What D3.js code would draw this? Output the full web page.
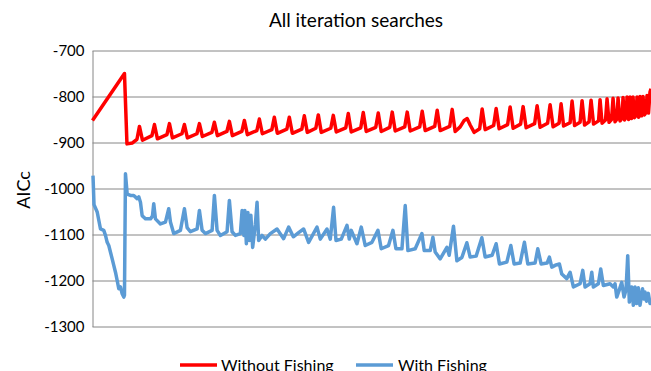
<!DOCTYPE html>
<html>
<head>
<meta charset="utf-8">
<script src="https://cdn.jsdelivr.net/npm/d3@7"></script>
<style>
  body { margin: 0; background: #fff; }
  svg { display: block; }
</style>
</head>
<body>
<div id="chart"></div>
<script>
// [iteration, AICc]
const withoutFishing = [
  [0,-852],[32,-750],[34.5,-903],[40,-901],
  [44.5,-893],[47,-865],[50,-895],
  [59.5,-885],[62,-861],[65,-892],
  [74.5,-883],[77,-859],[80,-890],
  [89.5,-881],[92,-861],[95,-890],
  [104.5,-881],[107,-859],[110,-887],
  [119.5,-878],[122,-856],[125,-885],
  [134.5,-876],[137,-854],[140,-885],
  [149.5,-876],[152,-852],[155,-883],
  [164.5,-874],[167,-849],[170,-881],
  [179.5,-872],[182,-845],[185,-880],
  [194.5,-871],[197,-845],[200,-880],
  [209.5,-871],[212,-842],[215,-878],
  [223.5,-869],[226,-840],[229,-878],
  [238.5,-869],[241,-841],[244,-877],
  [253.5,-868],[256,-837],[259,-877],
  [268.5,-868],[271,-835],[274,-876],
  [283.5,-867],[286,-836],[289,-876],
  [297.5,-867],[300,-834],[303,-875],
  [312.5,-866],[315,-834],[318,-875],
  [327.5,-866],[330,-832],[333,-874],
  [342.5,-865],[345,-830],[348,-874],
  [357.5,-865],[360,-828],[363,-876],
  [368,-866],[372,-852],[375,-848],[378,-862],[382,-878],
  [387.5,-870],[390,-827],[393,-872],
  [401.5,-863],[404,-826],[407,-870],
  [415.5,-861],[418,-823],[421,-869],
  [428.5,-860],[431,-822],[434,-868],
  [442.5,-859],[445,-820],[448,-867],
  [455.5,-858],[458,-818],[461,-866],
  [467,-858],[469,-816],[471.5,-864],
  [478,-857],[480,-810],[482.5,-863],
  [488,-856],[490,-809],[492.5,-862],
  [497,-855],[499,-808],[501.5,-860],
  [506.5,-853],[508,-807],[510,-858],
  [513.5,-851],[515,-805],[517,-856],
  [519.5,-850],[521,-804],[523,-855],
  [525,-849],[526,-803],[528,-853],
  [530,-847],[531,-802],[532.5,-851],
  [534,-845],[535,-801],[536.5,-850],
  [537.5,-845],[538,-801],[539.5,-848],
  [540.5,-843],[541,-801],[542.5,-846],
  [544,-841],[545,-801],[546.5,-845],
  [547.5,-840],[548,-800],[549.5,-842],
  [550.5,-838],[551,-800],[552.5,-840],
  [554,-835],[555,-798],[556.5,-836],
  [558,-790],[559,-783]
];

const withFishing = [
  [0.5,-972],[1.5,-1035],[4.7,-1051],[8,-1088],[11.3,-1091],[13,-1102],[14.7,-1117],
  [16.3,-1124],[19.7,-1153],[21.3,-1167],[23,-1182],[24.7,-1200],[26.3,-1218],[28,-1214],
  [29.7,-1229],[31.3,-1236],[32,-1232],[33,-968],[34.7,-1012],[38,-1015],[41.3,-1015],
  [44.7,-1022],[46.3,-1018],[48,-1030],[49.7,-1059],[53,-1066],[58,-1066],[60,-1060],
  [61.3,-1033],[63,-1066],[68,-1077],[73,-1073],[76.3,-1044],[78,-1073],[81.3,-1098],
  [88,-1091],[92,-1044],[94.7,-1085],[98,-1094],[104.7,-1088],[107,-1048],[109.7,-1091],
  [113,-1098],[119.7,-1091],[122,-1015],[124.7,-1091],[128,-1102],[134.7,-1094],[137,-1026],
  [139.7,-1094],[143,-1102],[148,-1098],[149.7,-1048],[151.5,-1102],[152.5,-1048],[154,-1120],
  [155.5,-1052],[157,-1113],[158.5,-1058],[160.3,-1128],[163,-1078],[164.7,-1030],[166.3,-1113],
  [169.7,-1102],[173,-1110],[178,-1098],[184.7,-1088],[191.3,-1109],[196.3,-1084],[201,-1105],
  [206.3,-1096],[211.3,-1088],[216.3,-1117],[224.7,-1084],[228,-1110],[234.7,-1088],[238,-1110],
  [241.3,-1041],[243.7,-1113],[249,-1110],[254.7,-1080],[257,-1110],[259,-1091],[264.7,-1120],
  [269,-1084],[273,-1124],[279.7,-1117],[285.7,-1091],[289,-1131],[296.3,-1124],[300.7,-1091],
  [303.7,-1131],[309.7,-1131],[313,-1037],[315.7,-1135],[323,-1131],[329.7,-1098],[332,-1135],
  [338,-1135],[340.7,-1106],[343,-1138],[348,-1153],[354.7,-1128],[357,-1145],[361.3,-1082],
  [364.7,-1157],[369.7,-1150],[374.7,-1118],[378,-1149],[384,-1147],[389.7,-1107],[393,-1149],
  [400,-1145],[404,-1120],[407.3,-1164],[414.7,-1160],[418.7,-1124],[422,-1164],[428,-1162],
  [432.3,-1117],[435.7,-1164],[443,-1162],[445.7,-1131],[449,-1164],[455,-1162],[457.3,-1149],
  [459.7,-1171],[464,-1166],[467.3,-1164],[469.7,-1186],[474.7,-1196],[478,-1182],[481.3,-1214],
  [488,-1207],[490.7,-1178],[493,-1214],[498,-1207],[499.7,-1182],[501.3,-1214],[506.3,-1207],
  [508.7,-1175],[511.3,-1211],[518,-1207],[521.3,-1214],[523,-1207],[524.7,-1236],[527,-1222],
  [529.7,-1204],[532,-1236],[534,-1220],[535.7,-1146],[537.3,-1247],[539.7,-1214],[541.3,-1254],
  [543,-1214],[544.7,-1250],[546.3,-1216],[548,-1254],[550.5,-1218],[552,-1240],[553,-1225],
  [554.5,-1245],[556.3,-1228],[558,-1250],[559,-1243]
];

const yTicks = [-1300, -1200, -1100, -1000, -900, -800, -700];
const seriesNames = ["Without Fishing", "With Fishing"];
const seriesColors = ["#ff0000", "#5b9bd5"];

const W = 651, H = 371;
const margin = { top: 50.5, left: 92.5, bottom: 44.5, right: 0 };
const fontFamily = "Lato, 'Open Sans', sans-serif";

const x = d3.scaleLinear()
  .domain([0, 565])
  .range([margin.left, 657]);

const y = d3.scaleLinear()
  .domain([-1300, -700])
  .range([H - margin.bottom, margin.top]);

const svg = d3.select("#chart").append("svg")
  .attr("width", W)
  .attr("height", H)
  .style("font-family", fontFamily);

svg.append("rect").attr("width", W).attr("height", H).attr("fill", "#fff");

// title
svg.append("text")
  .attr("x", 356)
  .attr("y", 27)
  .attr("text-anchor", "middle")
  .style("font-size", "19px")
  .attr("fill", "#000")
  .text("All iteration searches");

// y axis + gridlines
const yAxis = d3.axisLeft(y)
  .tickValues(yTicks)
  .tickSizeInner(-(657 - margin.left))
  .tickSizeOuter(0)
  .tickPadding(8);

const yAxisG = svg.append("g")
  .attr("transform", `translate(${ margin.left },0)`)
  .call(yAxis);

yAxisG.selectAll(".tick line").attr("stroke", "#868686").attr("stroke-width", 1);
yAxisG.select(".domain").attr("stroke", "#868686");
yAxisG.selectAll(".tick text")
  .attr("fill", "#000")
  .style("font-size", "15px")
  .style("font-family", fontFamily)
  .text(d => String(d));

// axis title
svg.append("text")
  .attr("transform", "translate(30,190) rotate(-90)")
  .attr("text-anchor", "middle")
  .style("font-size", "18px")
  .attr("fill", "#000")
  .text("AICc");

const line = d3.line()
  .x(d => x(d[0]))
  .y(d => y(d[1]));

[withoutFishing, withFishing].forEach((data, i) => {
  svg.append("path")
    .datum(data)
    .attr("fill", "none")
    .attr("stroke", seriesColors[i])
    .attr("stroke-width", 3.5)
    .attr("stroke-linejoin", "round")
    .attr("d", line);
});

// legend
const legendItems = [
  { x: 180, w: 37, textX: 221 },
  { x: 356, w: 37, textX: 398 }
];
const legend = svg.append("g").attr("class", "legend");
legendItems.forEach((it, i) => {
  legend.append("line")
    .attr("x1", it.x).attr("x2", it.x + it.w)
    .attr("y1", 365).attr("y2", 365)
    .attr("stroke", seriesColors[i])
    .attr("stroke-width", 3.5);
  legend.append("text")
    .attr("x", it.textX)
    .attr("y", 371)
    .style("font-size", "16px")
    .attr("fill", "#000")
    .text(seriesNames[i]);
});
</script>
</body>
</html>
